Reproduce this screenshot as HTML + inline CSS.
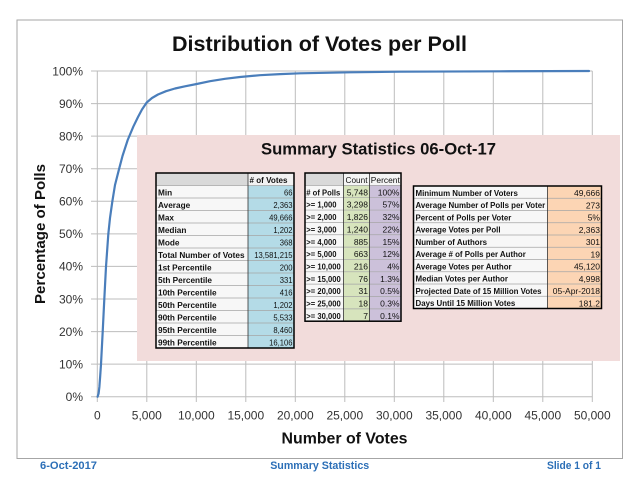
<!DOCTYPE html>
<html><head><meta charset="utf-8"><style>
html,body{margin:0;padding:0;background:#fff;}
svg{display:block;font-family:"Liberation Sans",Arial,sans-serif;}
</style></head><body>
<svg width="640" height="480" viewBox="0 0 640 480" xmlns="http://www.w3.org/2000/svg">
<rect x="0" y="0" width="640" height="480" fill="#fff"/>
<rect x="17" y="20" width="605.5" height="438.5" fill="#fff" stroke="#a6a6a6" stroke-width="1"/>
<text x="319.5" y="51" font-size="21.5" font-weight="bold" text-anchor="middle" textLength="295" lengthAdjust="spacingAndGlyphs" fill="#111">Distribution of Votes per Poll</text>

<!-- gridlines -->
<g stroke="#bdbdbd" stroke-width="1">
<line x1="91" y1="396.7" x2="592.3" y2="396.7"/>
<line x1="91" y1="364.1" x2="592.3" y2="364.1"/>
<line x1="91" y1="331.6" x2="592.3" y2="331.6"/>
<line x1="91" y1="299.0" x2="592.3" y2="299.0"/>
<line x1="91" y1="266.4" x2="592.3" y2="266.4"/>
<line x1="91" y1="233.9" x2="592.3" y2="233.9"/>
<line x1="91" y1="201.3" x2="592.3" y2="201.3"/>
<line x1="91" y1="168.7" x2="592.3" y2="168.7"/>
<line x1="91" y1="136.1" x2="592.3" y2="136.1"/>
<line x1="91" y1="103.6" x2="592.3" y2="103.6"/>
<line x1="91" y1="71.0" x2="592.3" y2="71.0"/>
<line x1="97.3" y1="71" x2="97.3" y2="402"/>
<line x1="146.8" y1="71" x2="146.8" y2="402"/>
<line x1="196.3" y1="71" x2="196.3" y2="402"/>
<line x1="245.8" y1="71" x2="245.8" y2="402"/>
<line x1="295.3" y1="71" x2="295.3" y2="402"/>
<line x1="344.8" y1="71" x2="344.8" y2="402"/>
<line x1="394.3" y1="71" x2="394.3" y2="402"/>
<line x1="443.8" y1="71" x2="443.8" y2="402"/>
<line x1="493.3" y1="71" x2="493.3" y2="402"/>
<line x1="542.8" y1="71" x2="542.8" y2="402"/>
<line x1="592.3" y1="71" x2="592.3" y2="402"/>
</g>

<!-- y tick labels -->
<g font-size="12" fill="#333" text-anchor="end">
<text x="83" y="401">0%</text>
<text x="83" y="368.4">10%</text>
<text x="83" y="335.9">20%</text>
<text x="83" y="303.3">30%</text>
<text x="83" y="270.7">40%</text>
<text x="83" y="238.2">50%</text>
<text x="83" y="205.6">60%</text>
<text x="83" y="173">70%</text>
<text x="83" y="140.4">80%</text>
<text x="83" y="107.9">90%</text>
<text x="83" y="75.3">100%</text>
</g>
<!-- x tick labels -->
<g font-size="12" fill="#333" text-anchor="middle">
<text x="97.3" y="419.5">0</text>
<text x="146.8" y="419.5">5,000</text>
<text x="196.3" y="419.5">10,000</text>
<text x="245.8" y="419.5">15,000</text>
<text x="295.3" y="419.5">20,000</text>
<text x="344.8" y="419.5">25,000</text>
<text x="394.3" y="419.5">30,000</text>
<text x="443.8" y="419.5">35,000</text>
<text x="493.3" y="419.5">40,000</text>
<text x="542.8" y="419.5">45,000</text>
<text x="592.3" y="419.5">50,000</text>
</g>

<text x="344.5" y="443.5" font-size="16" font-weight="bold" text-anchor="middle" textLength="126" lengthAdjust="spacingAndGlyphs" fill="#111">Number of Votes</text>
<text transform="translate(45,234) rotate(-90)" x="0" y="0" font-size="15" font-weight="bold" text-anchor="middle" textLength="140" lengthAdjust="spacingAndGlyphs" fill="#111">Percentage of Polls</text>

<!-- summary box -->
<rect x="137" y="135" width="483" height="226" fill="#f2dcdb"/>
<text x="261" y="154.3" font-size="16.5" font-weight="bold" textLength="235" lengthAdjust="spacingAndGlyphs" fill="#111">Summary Statistics 06-Oct-17</text>

<!-- curve -->
<polyline fill="none" stroke="#4a7ebb" stroke-width="2.2" stroke-linejoin="round" stroke-linecap="round"
points="97.6,396.7 98.6,393.5 99.4,386.7 100.2,376 101,364.3 102.7,331.7 104.3,299.3 106,266.7 108.3,234.3 110,218 112.3,201.7 115,185 119,169.3 122.5,156 127.7,140 133.3,126.7 138,117 142,109.5 146.7,102.5 152,98 158,94.5 166,91.2 175,88.5 185,86.3 196.7,84 210,81.2 225,78.8 240,77 260,75.2 280,74.1 300,73.3 350,72.3 400,71.7 500,71.3 589,71"/>

<!-- Table 1 -->
<rect x="156" y="185.5" width="92" height="162.5" fill="#f7f7f7"/>
<rect x="156" y="173" width="92" height="12.5" fill="#d9d9d9"/>
<rect x="248" y="173" width="46" height="12.5" fill="#f2f2f2"/>
<rect x="248" y="185.5" width="46" height="162.5" fill="#b4dbe7"/>
<g stroke="#a6a6a6" stroke-width="0.7">
<line x1="156" x2="294" y1="185.5" y2="185.5"/>
<line x1="156" x2="294" y1="198" y2="198"/>
<line x1="156" x2="294" y1="210.5" y2="210.5"/>
<line x1="156" x2="294" y1="223" y2="223"/>
<line x1="156" x2="294" y1="235.5" y2="235.5"/>
<line x1="156" x2="294" y1="248" y2="248"/>
<line x1="156" x2="294" y1="260.5" y2="260.5"/>
<line x1="156" x2="294" y1="273" y2="273"/>
<line x1="156" x2="294" y1="285.5" y2="285.5"/>
<line x1="156" x2="294" y1="298" y2="298"/>
<line x1="156" x2="294" y1="310.5" y2="310.5"/>
<line x1="156" x2="294" y1="323" y2="323"/>
<line x1="156" x2="294" y1="335.5" y2="335.5"/>
</g>
<line x1="248" x2="248" y1="173" y2="348" stroke="#333" stroke-width="0.8"/>
<rect x="156" y="173" width="138" height="175" fill="none" stroke="#000" stroke-width="1.5"/>
<g font-size="8.5" font-weight="bold" fill="#111">
<text x="249.5" y="183" textLength="38" lengthAdjust="spacingAndGlyphs">#&#160;of Votes</text>
</g>
<g font-size="8.5" font-weight="bold" fill="#111" transform="translate(158,0) scale(0.97,1)">
<text x="0" y="195.5">Min</text>
<text x="0" y="208">Average</text>
<text x="0" y="220.5">Max</text>
<text x="0" y="233">Median</text>
<text x="0" y="245.5">Mode</text>
<text x="0" y="258">Total Number of Votes</text>
<text x="0" y="270.5">1st Percentile</text>
<text x="0" y="283">5th Percentile</text>
<text x="0" y="295.5">10th Percentile</text>
<text x="0" y="308">50th Percentile</text>
<text x="0" y="320.5">90th Percentile</text>
<text x="0" y="333">95th Percentile</text>
<text x="0" y="345.5">99th Percentile</text>
</g>
<g font-size="8.5" fill="#111" text-anchor="end" transform="translate(292.5,0) scale(0.9,1)">
<text x="0" y="195.5">66</text>
<text x="0" y="208">2,363</text>
<text x="0" y="220.5">49,666</text>
<text x="0" y="233">1,202</text>
<text x="0" y="245.5">368</text>
<text x="0" y="258">13,581,215</text>
<text x="0" y="270.5">200</text>
<text x="0" y="283">331</text>
<text x="0" y="295.5">416</text>
<text x="0" y="308">1,202</text>
<text x="0" y="320.5">5,533</text>
<text x="0" y="333">8,460</text>
<text x="0" y="345.5">16,106</text>
</g>

<!-- Table 2 -->
<rect x="305" y="185.35" width="38.5" height="135.85" fill="#f7f7f7"/>
<rect x="305" y="173" width="38.5" height="12.35" fill="#d9d9d9"/>
<rect x="343.5" y="173" width="57.5" height="12.35" fill="#f5f5f5"/>
<rect x="343.5" y="185.35" width="26" height="135.85" fill="#d7e4bd"/>
<rect x="369.5" y="185.35" width="31.5" height="135.85" fill="#ccc1da"/>
<g stroke="#a6a6a6" stroke-width="0.7">
<line x1="305" x2="401" y1="185.35" y2="185.35"/>
<line x1="305" x2="401" y1="197.7" y2="197.7"/>
<line x1="305" x2="401" y1="210.05" y2="210.05"/>
<line x1="305" x2="401" y1="222.4" y2="222.4"/>
<line x1="305" x2="401" y1="234.75" y2="234.75"/>
<line x1="305" x2="401" y1="247.1" y2="247.1"/>
<line x1="305" x2="401" y1="259.45" y2="259.45"/>
<line x1="305" x2="401" y1="271.8" y2="271.8"/>
<line x1="305" x2="401" y1="284.15" y2="284.15"/>
<line x1="305" x2="401" y1="296.5" y2="296.5"/>
<line x1="305" x2="401" y1="308.85" y2="308.85"/>
</g>
<g stroke="#333" stroke-width="0.8">
<line x1="343.5" x2="343.5" y1="173" y2="321.2"/>
<line x1="369.5" x2="369.5" y1="173" y2="321.2"/>
</g>
<rect x="305" y="173" width="96" height="148.2" fill="none" stroke="#000" stroke-width="1.5"/>
<g font-size="8.5" fill="#111">
<text x="345.5" y="183" textLength="22" lengthAdjust="spacingAndGlyphs">Count</text>
<text x="370.8" y="183" textLength="29" lengthAdjust="spacingAndGlyphs">Percent</text>
</g>
<g font-size="8.5" font-weight="bold" fill="#111" transform="translate(306.3,0) scale(0.9,1)">
<text x="0" y="195.4">#&#160;of Polls</text>
<text x="0" y="207.7">&gt;= 1,000</text>
<text x="0" y="220.1">&gt;= 2,000</text>
<text x="0" y="232.4">&gt;= 3,000</text>
<text x="0" y="244.8">&gt;= 4,000</text>
<text x="0" y="257.1">&gt;= 5,000</text>
<text x="0" y="269.5">&gt;= 10,000</text>
<text x="0" y="281.8">&gt;= 15,000</text>
<text x="0" y="294.2">&gt;= 20,000</text>
<text x="0" y="306.5">&gt;= 25,000</text>
<text x="0" y="318.9">&gt;= 30,000</text>
</g>
<g font-size="8.5" fill="#111" text-anchor="end">
<text x="368" y="195.4">5,748</text>
<text x="368" y="207.7">3,298</text>
<text x="368" y="220.1">1,826</text>
<text x="368" y="232.4">1,240</text>
<text x="368" y="244.8">885</text>
<text x="368" y="257.1">663</text>
<text x="368" y="269.5">216</text>
<text x="368" y="281.8">76</text>
<text x="368" y="294.2">31</text>
<text x="368" y="306.5">18</text>
<text x="368" y="318.9">7</text>
<text x="399.5" y="195.4">100%</text>
<text x="399.5" y="207.7">57%</text>
<text x="399.5" y="220.1">32%</text>
<text x="399.5" y="232.4">22%</text>
<text x="399.5" y="244.8">15%</text>
<text x="399.5" y="257.1">12%</text>
<text x="399.5" y="269.5">4%</text>
<text x="399.5" y="281.8">1.3%</text>
<text x="399.5" y="294.2">0.5%</text>
<text x="399.5" y="306.5">0.3%</text>
<text x="399.5" y="318.9">0.1%</text>
</g>

<!-- Table 3 -->
<rect x="413.5" y="186" width="134" height="122.5" fill="#f7f7f7"/>
<rect x="547.5" y="186" width="54" height="122.5" fill="#fcd5b4"/>
<g stroke="#a6a6a6" stroke-width="0.7">
<line x1="413.5" x2="601.5" y1="198.25" y2="198.25"/>
<line x1="413.5" x2="601.5" y1="210.5" y2="210.5"/>
<line x1="413.5" x2="601.5" y1="222.75" y2="222.75"/>
<line x1="413.5" x2="601.5" y1="235" y2="235"/>
<line x1="413.5" x2="601.5" y1="247.25" y2="247.25"/>
<line x1="413.5" x2="601.5" y1="259.5" y2="259.5"/>
<line x1="413.5" x2="601.5" y1="271.75" y2="271.75"/>
<line x1="413.5" x2="601.5" y1="284" y2="284"/>
<line x1="413.5" x2="601.5" y1="296.25" y2="296.25"/>
</g>
<line x1="547.5" x2="547.5" y1="186" y2="308.5" stroke="#333" stroke-width="0.8"/>
<rect x="413.5" y="186" width="188" height="122.5" fill="none" stroke="#000" stroke-width="1.5"/>
<g font-size="8.5" font-weight="bold" fill="#111" transform="translate(415.5,0) scale(0.93,1)">
<text x="0" y="196">Minimum Number of Voters</text>
<text x="0" y="208.25">Average Number of Polls per Voter</text>
<text x="0" y="220.5">Percent of Polls per Voter</text>
<text x="0" y="232.75">Average Votes per Poll</text>
<text x="0" y="245">Number of Authors</text>
<text x="0" y="257.25">Average #&#160;of Polls per Author</text>
<text x="0" y="269.5">Average Votes per Author</text>
<text x="0" y="281.75">Median Votes per Author</text>
<text x="0" y="294">Projected Date of 15 Million Votes</text>
<text x="0" y="306.25">Days Until 15 Million Votes</text>
</g>
<g font-size="8.5" fill="#111" text-anchor="end">
<text x="600" y="196">49,666</text>
<text x="600" y="208.25">273</text>
<text x="600" y="220.5">5%</text>
<text x="600" y="232.75">2,363</text>
<text x="600" y="245">301</text>
<text x="600" y="257.25">19</text>
<text x="600" y="269.5">45,120</text>
<text x="600" y="281.75">4,998</text>
<text x="600" y="294">05-Apr-2018</text>
<text x="600" y="306.25">181.2</text>
</g>

<!-- footer -->
<g font-size="11" font-weight="bold" fill="#2c6fb7">
<text x="40" y="469" textLength="57" lengthAdjust="spacingAndGlyphs">6-Oct-2017</text>
<text x="319.7" y="469" text-anchor="middle" textLength="99" lengthAdjust="spacingAndGlyphs">Summary Statistics</text>
<text x="547" y="469" textLength="54" lengthAdjust="spacingAndGlyphs">Slide 1 of 1</text>
</g>
</svg>
</body></html>
